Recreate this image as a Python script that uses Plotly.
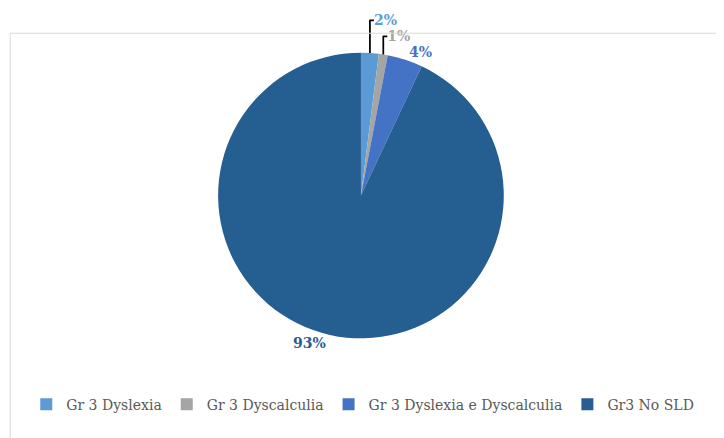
import plotly.graph_objects as go

labels = ["Gr 3 Dyslexia", "Gr 3 Dyscalculia", "Gr 3 Dyslexia e Dyscalculia", "Gr3 No SLD"]
values = [2, 1, 4, 93]
colors = ["#5B9BD5", "#A5A5A5", "#4472C4", "#255E91"]

W, H = 724, 438

fig = go.Figure(go.Pie(
    labels=labels,
    values=values,
    sort=False,
    direction="clockwise",
    rotation=0,
    marker=dict(colors=colors, line=dict(color="white", width=0)),
    texttemplate="<b>%{percent:.0%}</b>",
    textposition="outside",
    textfont=dict(family="DejaVu Serif", size=14, color=colors),
    domain=dict(x=[0.27, 0.705], y=[0.26, 0.95]),
    hoverinfo="label+percent",
))

fig.update_layout(
    width=W, height=H,
    margin=dict(l=0, r=0, t=0, b=0),
    paper_bgcolor="white",
    font=dict(family="DejaVu Serif", color="#595959"),
    legend=dict(orientation="h", x=0.49, xanchor="center", y=0.1, yanchor="middle",
                font=dict(size=14, color="#595959")),
    shapes=[dict(type="rect", xref="paper", yref="paper",
                 x0=0.003, x1=0.997, y0=0.003, y1=0.997,
                 line=dict(color="#D9D9D9", width=1))],
)

fig.write_html("out.html")
